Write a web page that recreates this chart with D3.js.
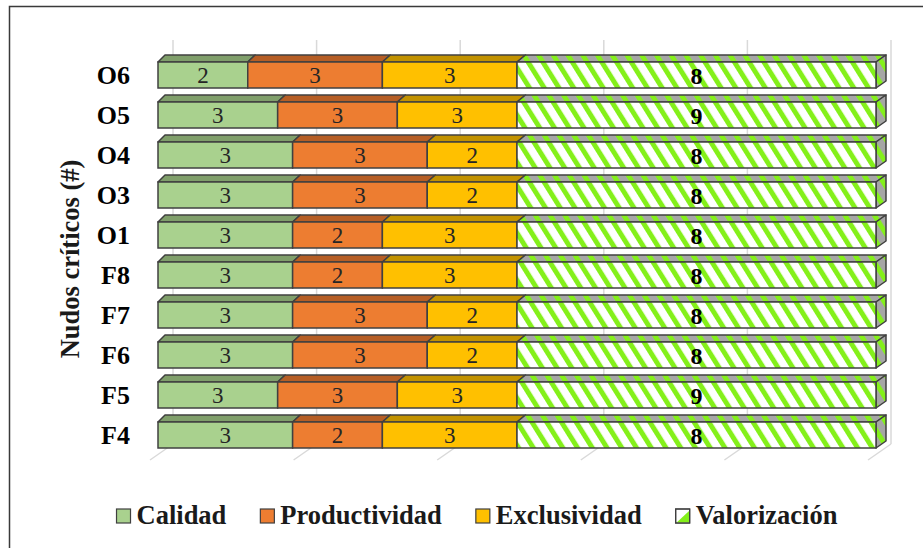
<!DOCTYPE html>
<html>
<head>
<meta charset="utf-8">
<script src="https://cdn.jsdelivr.net/npm/d3@7"></script>
<style>
  html, body { margin: 0; padding: 0; background: #fff; }
  svg { display: block; font-family: "Liberation Serif", "Times New Roman", serif; }
</style>
</head>
<body>
<svg id="chart" width="923" height="548"></svg>
<script>
// nudos críticos, de abajo hacia arriba (orden de Excel)
const categories = ["F4", "F5", "F6", "F7", "F8", "O1", "O3", "O4", "O5", "O6"];
const calidad = [3, 3, 3, 3, 3, 3, 3, 3, 3, 2];
const productividad = [2, 3, 3, 3, 2, 2, 3, 3, 3, 3];
const exclusividad = [3, 3, 2, 2, 3, 3, 2, 2, 3, 3];
const valorizacion = [8, 9, 8, 8, 8, 8, 8, 8, 9, 8];
const seriesNames = ["Calidad", "Productividad", "Exclusividad", "Valorización"];
const gridTicks = [0, 0.2, 0.4, 0.6, 0.8, 1];

const cfg = {
    plot: { x0: 158, x1: 876, top: 55, bottom: 455 },
    depth: { dx0: 7, dx1: 10, dy: 7 },
    front: ["#a9d18e", "#ed7d31", "#ffc000", "url(#stripes)"],
    top: ["#809f6b", "#b65e25", "#c29200", "url(#stripesTop)"],
    stroke: "#404040",
    lime: "#84f01a"
};

const keys = ["c", "p", "e", "v"];
const rows = categories.map((cat, i) => ({
    cat, c: calidad[i], p: productividad[i], e: exclusividad[i], v: valorizacion[i]
}));

const svg = d3.select("#chart");

// patrones de rayas para Valorización
const defs = svg.append("defs");
function stripePattern(id, bg) {
    const p = defs.append("pattern").attr("id", id)
        .attr("patternUnits", "userSpaceOnUse")
        .attr("width", 12.5).attr("height", 12.5)
        .attr("patternTransform", "rotate(-32)");
    p.append("rect").attr("width", 12.5).attr("height", 12.5).attr("fill", bg);
    p.append("rect").attr("width", 5).attr("height", 12.5).attr("fill", cfg.lime);
}
stripePattern("stripes", "#ffffff");
stripePattern("stripesTop", "#a6a6a6");

// marco exterior (solo se ven borde superior e izquierdo)
svg.append("rect").attr("x", 9.5).attr("y", 6.5).attr("width", 1000).attr("height", 1000)
    .attr("fill", "none").attr("stroke", "#3a3a3a").attr("stroke-width", 1.5);

const x = d3.scaleLinear().domain([0, 1]).range([cfg.plot.x0, cfg.plot.x1]);
const y = d3.scaleBand().domain(categories.slice().reverse())
    .range([cfg.plot.top, cfg.plot.bottom]).paddingInner(0.35).paddingOuter(0.175);
const depthX = v => cfg.depth.dx0 + (cfg.depth.dx1 - cfg.depth.dx0) * v;

// rejilla: pared del fondo y suelo
const grid = svg.append("g").attr("stroke", "#d9d9d9").attr("stroke-width", 1.5);
grid.selectAll("line.wall").data(gridTicks).join("line").attr("class", "wall")
    .attr("x1", d => x(d) + 15).attr("x2", d => x(d) + 15)
    .attr("y1", 40).attr("y2", 444);
grid.selectAll("line.floor").data(gridTicks).join("line").attr("class", "floor")
    .attr("x1", d => x(d) - 8).attr("y1", 460)
    .attr("x2", d => x(d) + 15).attr("y2", 444);

const stacked = d3.stack().keys(keys).offset(d3.stackOffsetExpand)(rows);

const h = y.bandwidth();
const dy = cfg.depth.dy;
const bars = svg.append("g");

stacked.forEach((layer, si) => {
    const g = bars.append("g");
    layer.forEach(seg => {
        const cat = seg.data.cat;
        const top = y(cat);
        const xa = x(seg[0]), xb = x(seg[1]);
        const da = depthX(seg[0]), db = depthX(seg[1]);
        // cara superior
        g.append("polygon")
            .attr("points", [[xa, top], [xb, top], [xb + db, top - dy], [xa + da, top - dy]].join(" "))
            .attr("fill", cfg.top[si]).attr("stroke", cfg.stroke).attr("stroke-width", 1.5)
            .attr("stroke-linejoin", "round");
        // cara lateral derecha solo al final de la barra
        if (si === keys.length - 1) {
            g.append("polygon")
                .attr("points", [[xb, top], [xb + db, top - dy], [xb + db, top + h - dy], [xb, top + h]].join(" "))
                .attr("fill", "url(#stripesTop)").attr("stroke", cfg.stroke).attr("stroke-width", 1.5)
                .attr("stroke-linejoin", "round");
        }
        // cara frontal
        g.append("rect").attr("x", xa).attr("y", top).attr("width", xb - xa).attr("height", h)
            .attr("fill", cfg.front[si]).attr("stroke", cfg.stroke).attr("stroke-width", 1.5);
        // etiqueta de valor
        g.append("text").attr("x", (xa + xb) / 2).attr("y", top + h / 2).attr("dy", "0.36em")
            .attr("text-anchor", "middle")
            .attr("font-size", si === 3 ? 24 : 23)
            .attr("font-weight", si === 3 ? "bold" : "normal")
            .attr("fill", si === 3 ? "#000" : "#262626")
            .text(seg.data[keys[si]]);
    });
});

// eje de categorías
const yAxis = svg.append("g").attr("transform", "translate(136,0)")
    .call(d3.axisLeft(y).tickSize(0).tickPadding(6));
yAxis.select(".domain").remove();
yAxis.selectAll("text").attr("font-family", "Liberation Serif, Times New Roman, serif")
    .attr("font-size", 26).attr("font-weight", "bold").attr("fill", "#000").attr("dy", "0.34em");

svg.append("text").attr("transform", "translate(79,259) rotate(-90)")
    .attr("text-anchor", "middle").attr("font-size", 26.5).attr("font-weight", "bold")
    .attr("fill", "#1a1a1a").text("Nudos críticos (#)");

// leyenda
const legend = svg.append("g");
const items = legend.selectAll("g").data(seriesNames).join("g");
items.append("rect").attr("x", 0).attr("y", -15).attr("width", 14).attr("height", 14)
    .attr("fill", (d, i) => i === 3 ? "#fff" : cfg.front[i])
    .attr("stroke", cfg.stroke).attr("stroke-width", 1.2);
items.filter((d, i) => i === 3).append("polygon")
    .attr("points", "13.4,-13 13.4,-1.6 1,-1.6")
    .attr("fill", cfg.lime);
items.filter((d, i) => i === 3).append("rect").attr("x", 0).attr("y", -15)
    .attr("width", 14).attr("height", 14).attr("fill", "none")
    .attr("stroke", cfg.stroke).attr("stroke-width", 1.2);
items.append("text").attr("x", 20).attr("y", 0)
    .attr("font-size", 26.5).attr("font-weight", "bold").attr("fill", "#1a1a1a")
    .text(d => d);

let cx = 0;
const gap = 34;
items.each(function () {
    const w = 20 + d3.select(this).select("text").node().getComputedTextLength();
    d3.select(this).attr("transform", `translate(${cx},0)`);
    cx += w + gap;
});
const total = cx - gap;
legend.attr("transform", `translate(${477 - total / 2},524)`);
</script>
</body>
</html>
